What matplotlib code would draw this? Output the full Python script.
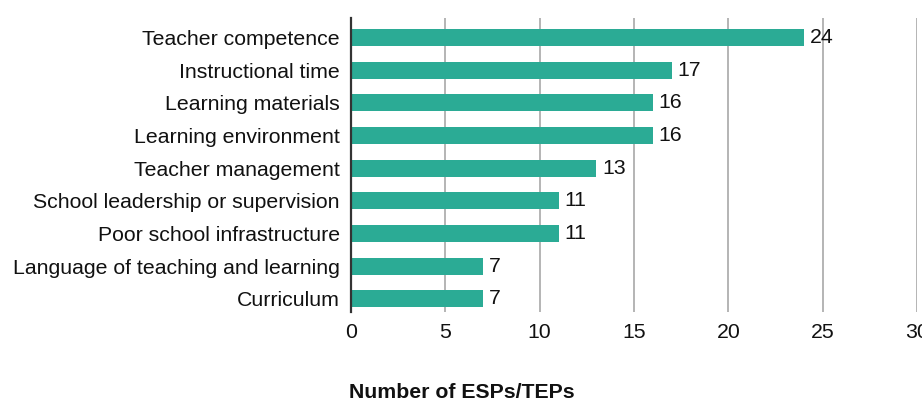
import matplotlib
matplotlib.use("Agg")
import matplotlib.pyplot as plt

categories = ["Teacher competence", "Instructional time", "Learning materials",
              "Learning environment", "Teacher management",
              "School leadership or supervision", "Poor school infrastructure",
              "Language of teaching and learning", "Curriculum"]
values = [24, 17, 16, 16, 13, 11, 11, 7, 7]
xticks = [0, 5, 10, 15, 20, 25, 30]

plt.rcParams['font.family'] = ['Liberation Sans', 'DejaVu Sans']
FS = 15.3

fig = plt.figure(figsize=(9.22, 4.01), dpi=100)
ax = fig.add_axes([351/922, 1-312/401, (917-351)/922, (312-18)/401])

y = list(range(len(categories)))
ax.barh(y, values, height=0.52, color='#2bab95', zorder=3)
for yi, v in zip(y, values):
    ax.text(v + 0.3, yi, str(v), va='center', ha='left', fontsize=FS, color='#111111', zorder=4)

ax.set_yticks(y)
ax.set_yticklabels(categories, fontsize=FS, color='#111111')
ax.set_ylim(len(categories) - 0.6, -0.6)
ax.set_xlim(0, 30)
ax.set_xticks(xticks)
ax.set_xticklabels([str(t) for t in xticks], fontsize=FS, color='#111111')
ax.tick_params(length=0, pad=8)
ax.tick_params(axis='y', pad=8)
ax.grid(axis='x', color='#a8a8a8', linewidth=1.2, zorder=0)
for s in ['top', 'right', 'bottom']:
    ax.spines[s].set_visible(False)
ax.spines['left'].set_color('#333333')
ax.spines['left'].set_linewidth(1.6)
ax.spines['left'].set_zorder(5)

fig.text(462/922, 1-393/401, "Number of ESPs/TEPs", ha='center', va='center',
         fontsize=FS, fontweight='bold', color='#111111')

fig.savefig("out.png", dpi=100)
